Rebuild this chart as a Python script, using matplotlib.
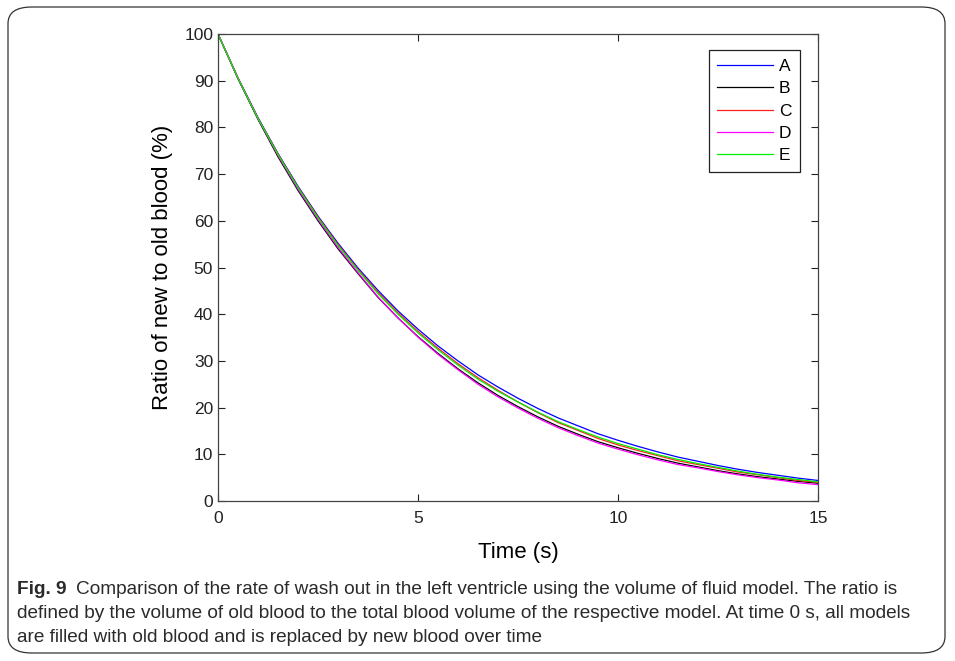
import matplotlib
matplotlib.use('Agg')
import matplotlib.pyplot as plt
from matplotlib.patches import FancyBboxPatch
import numpy as np

# time axis (s)
time = [0.0, 0.5, 1.0, 1.5, 2.0, 2.5, 3.0, 3.5, 4.0, 4.5, 5.0, 5.5, 6.0, 6.5, 7.0, 7.5,
        8.0, 8.5, 9.0, 9.5, 10.0, 10.5, 11.0, 11.5, 12.0, 12.5, 13.0, 13.5, 14.0, 14.5, 15.0]

# ratio of new to old blood (%) for each model
model_a = [100, 90.6, 82.1, 74.4, 67.4, 61.0, 55.2, 49.9, 45.1, 40.7, 36.8, 33.2, 30.0, 27.0, 24.4, 22.0,
           19.8, 17.8, 16.1, 14.4, 13.0, 11.7, 10.5, 9.4, 8.5, 7.6, 6.8, 6.1, 5.5, 4.9, 4.4]
model_b = [100, 90.4, 81.7, 73.7, 66.5, 60.0, 54.0, 48.7, 43.6, 39.2, 35.2, 31.6, 28.3, 25.3, 22.6, 20.2,
           18.0, 16.0, 14.3, 12.7, 11.4, 10.2, 9.1, 8.1, 7.3, 6.5, 5.8, 5.2, 4.7, 4.2, 3.8]
model_c = [100, 90.6, 82.0, 74.3, 67.2, 60.8, 54.9, 49.6, 44.7, 40.3, 36.3, 32.7, 29.4, 26.4, 23.7, 21.2,
           18.9, 16.8, 15.1, 13.4, 12.0, 10.8, 9.7, 8.6, 7.8, 7.0, 6.2, 5.6, 5.0, 4.4, 4.0]
model_d = [100, 90.5, 81.9, 74.0, 66.8, 60.3, 54.3, 48.9, 43.7, 39.2, 35.1, 31.4, 28.1, 25.0, 22.3, 19.9,
           17.7, 15.7, 14.0, 12.4, 11.1, 9.9, 8.8, 7.8, 7.1, 6.3, 5.6, 5.0, 4.5, 3.9, 3.5]
model_e = [100, 90.5, 81.9, 74.2, 67.1, 60.6, 54.7, 49.4, 44.4, 40.0, 36.0, 32.4, 29.1, 26.1, 23.5, 21.2,
           19.0, 17.0, 15.3, 13.7, 12.3, 11.1, 9.9, 8.9, 8.0, 7.2, 6.4, 5.7, 5.1, 4.6, 4.1]

labels = ['A', 'B', 'C', 'D', 'E']
colors = ['#0000ff', '#000000', '#ff2020', '#ff00ff', '#00ee00']

plt.rcParams['font.family'] = ['Liberation Sans', 'DejaVu Sans']

fig = plt.figure(figsize=(9.55, 6.61), dpi=100)

# rounded frame around figure + caption
frame = FancyBboxPatch((8 / 955, 8 / 661), 937 / 955, 646 / 661,
                       boxstyle='round,pad=0,rounding_size=0.025',
                       transform=fig.transFigure, fill=False,
                       edgecolor='#333333', linewidth=0.9)
fig.patches.append(frame)

ax = fig.add_axes([218 / 955, 160 / 661, 600 / 955, 467 / 661])
for y, lab, col in zip([model_a, model_b, model_c, model_d, model_e], labels, colors):
    ax.plot(time, y, color=col, lw=0.9, label=lab)

ax.set_xlim(0, 15)
ax.set_ylim(0, 100)
ax.set_xticks([0, 5, 10, 15])
ax.set_yticks(np.arange(0, 101, 10))
ax.tick_params(direction='in', top=True, right=True, labelsize=12.5,
               length=5, width=0.8, colors='#222222')
ax.tick_params(axis='x', pad=7)
for s in ax.spines.values():
    s.set_color('#444444')
    s.set_linewidth(0.9)
ax.set_xlabel('Time (s)', fontsize=16, labelpad=12)
ax.set_ylabel('Ratio of new to old blood (%)', fontsize=16, labelpad=8)

leg = ax.legend(loc='upper right', bbox_to_anchor=(0.97, 0.966), fontsize=12.5,
                fancybox=False, framealpha=1, edgecolor='#222222',
                handlelength=3.2, handletextpad=0.35, labelspacing=0.42,
                borderpad=0.5, borderaxespad=0)
leg.get_frame().set_linewidth(0.9)

# caption
cap = '#2a2a2a'
fs = 13.7
fig.text(17 / 955, 1 - 590 / 661, 'Fig. 9', fontsize=fs, fontweight='bold',
         color=cap, va='center')
fig.text(76 / 955, 1 - 590 / 661,
         'Comparison of the rate of wash out in the left ventricle using the volume of fluid model. The ratio is',
         fontsize=fs, color=cap, va='center')
fig.text(17 / 955, 1 - 614 / 661,
         'defined by the volume of old blood to the total blood volume of the respective model. At time 0 s, all models',
         fontsize=fs, color=cap, va='center')
fig.text(17 / 955, 1 - 637 / 661,
         'are filled with old blood and is replaced by new blood over time',
         fontsize=fs, color=cap, va='center')

fig.savefig('out.png', dpi=100)
